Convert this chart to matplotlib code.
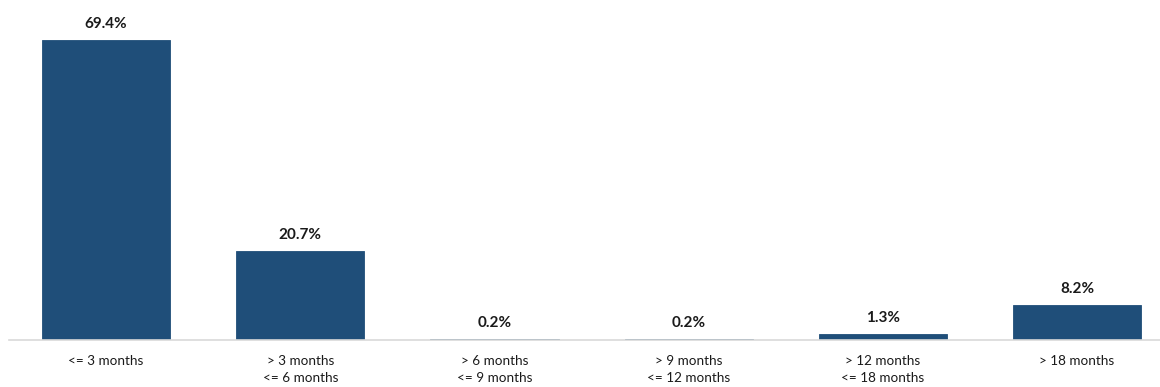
import matplotlib
matplotlib.use("Agg")
import matplotlib.pyplot as plt

categories = ["<= 3 months", "> 3 months\n<= 6 months", "> 6 months\n<= 9 months",
              "> 9 months\n<= 12 months", "> 12 months\n<= 18 months", "> 18 months"]
shares = [69.4, 20.7, 0.2, 0.2, 1.3, 8.2]
labels = ["69.4%", "20.7%", "0.2%", "0.2%", "1.3%", "8.2%"]

plt.rcParams['font.family'] = ['Lato', 'DejaVu Sans']

fig = plt.figure(figsize=(11.6, 3.87), dpi=100)
ax = fig.add_axes([9 / 1160, 47 / 387, 1151 / 1160, 340 / 387])

x = list(range(len(categories)))
ax.bar(x, shares, width=0.66, color="#1F4E79", edgecolor="#1F4E79", linewidth=0.6, zorder=2)

for xi, v, lab in zip(x, shares, labels):
    ax.annotate(lab, (xi, v), xytext=(0, 8.6), textcoords="offset points",
                ha="center", va="baseline", fontsize=11, fontweight="bold", color="#1a1a1a")

ax.set_xlim(-0.5, -0.5 + 1151 / 194.2)
ax.set_ylim(0, 78.65)
ax.set_xticks(x)
ax.set_xticklabels(categories, fontsize=9.7, color="#1a1a1a", linespacing=1.5)
ax.tick_params(axis="x", length=0, pad=10.5)
ax.set_yticks([])
for s in ["top", "left", "right"]:
    ax.spines[s].set_visible(False)
ax.spines["bottom"].set_color("#D9D9D9")
ax.spines["bottom"].set_linewidth(1.2)

fig.savefig("out.png", dpi=100)
